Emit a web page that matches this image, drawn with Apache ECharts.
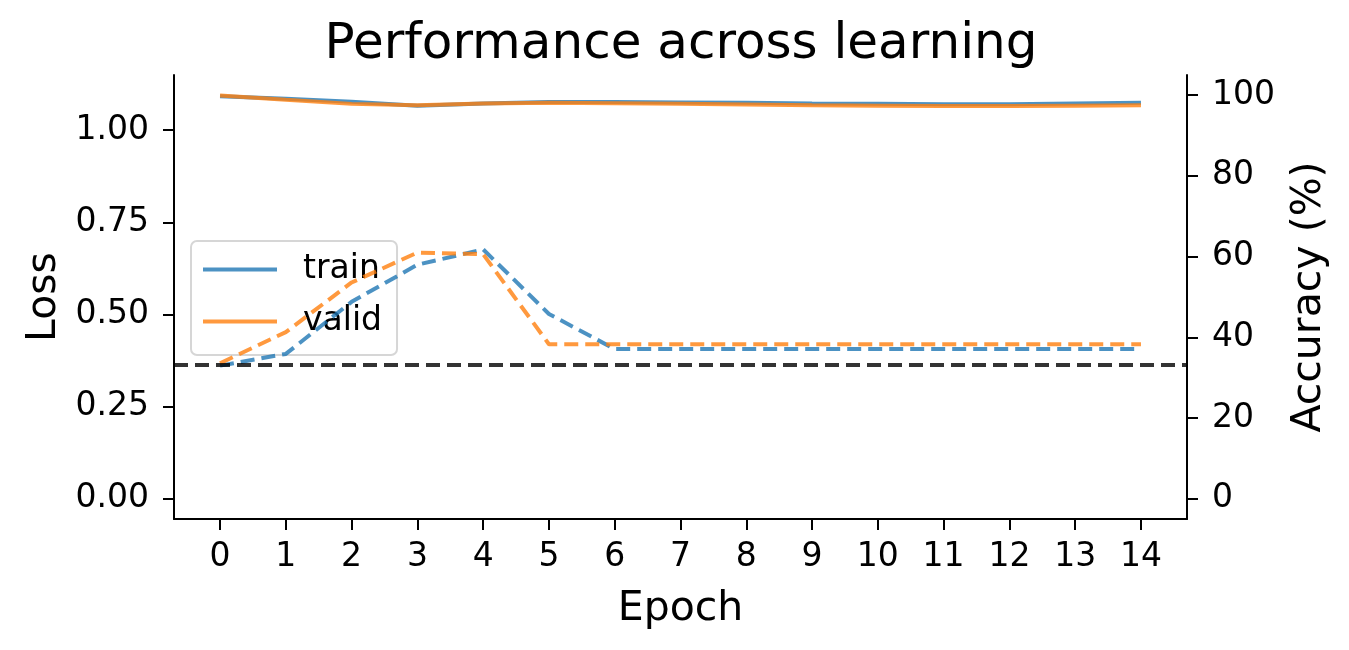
<!DOCTYPE html>
<html>
<head>
<meta charset="utf-8">
<script src="https://cdn.jsdelivr.net/npm/echarts@6/dist/echarts.min.js"></script>
<style>
html,body{margin:0;padding:0;background:#fff;}
#chart{width:1349px;height:650px;}
</style>
</head>
<body>
<div id="chart"></div>
<script>
const epochs = [0,1,2,3,4,5,6,7,8,9,10,11,12,13,14];
const trainLoss = [1.092,1.085,1.077,1.066,1.072,1.076,1.076,1.075,1.074,1.072,1.071,1.070,1.070,1.072,1.074];
const validLoss = [1.094,1.082,1.071,1.067,1.072,1.074,1.073,1.071,1.069,1.067,1.066,1.065,1.065,1.066,1.067];
const trainAcc = [33.0,35.9,48.8,58.0,61.8,45.8,37.1,37.1,37.1,37.1,37.1,37.1,37.1,37.1,37.1];
const validAcc = [33.6,41.3,53.6,61.0,60.6,38.3,38.3,38.3,38.3,38.3,38.3,38.3,38.3,38.3,38.3];
const chanceAcc = 33.333;
const lossTicks = [0,0.25,0.5,0.75,1.0];
const accTicks = [0,20,40,60,80,100];

const FONT = 'DejaVu Sans';
const BLUE = 'rgba(31,119,180,0.8)';
const ORANGE = 'rgba(255,127,14,0.8)';

const pair = (xs, ys) => xs.map((x, i) => [x, ys[i]]);

const chart = echarts.init(document.getElementById('chart'), null, {renderer: 'canvas'});
const axisCommon = {
  axisLine: {show: true, onZero: false, lineStyle: {color: '#000', width: 2}},
  splitLine: {show: false},
  nameTextStyle: {fontFamily: FONT, fontSize: 41, color: '#000'},
};
const tick = vals => ({show: true, length: 11, customValues: vals, lineStyle: {color: '#000', width: 2}});
chart.setOption({
  animation: false,
  backgroundColor: '#fff',
  title: {
    text: 'Performance across learning',
    left: 676, textAlign: 'center', top: 14,
    textStyle: {fontFamily: FONT, fontSize: 50, fontWeight: 'normal', color: '#000', lineHeight: 52}
  },
  grid: {left: 174, right: 162, top: 75, bottom: 131, containLabel: false},
  legend: {
    orient: 'vertical', left: 191, top: 241, z: 1,
    padding: [12, 15, 17, 12],
    itemWidth: 74, itemHeight: 4, itemGap: 19,
    backgroundColor: 'rgba(255,255,255,0.8)',
    borderColor: '#d6d6d6', borderWidth: 2, borderRadius: 6,
    textStyle: {fontFamily: FONT, fontSize: 33, color: '#000', lineHeight: 33, padding: [0, 0, 0, 21]},
    data: [{name: 'train', icon: 'rect'}, {name: 'valid', icon: 'rect'}]
  },
  xAxis: Object.assign({}, axisCommon, {
    type: 'value', min: -0.7, max: 14.7,
    name: 'Epoch', nameLocation: 'middle', nameGap: 70,
    axisTick: tick(epochs),
    axisLabel: {customValues: epochs, margin: 22, fontFamily: FONT, fontSize: 33, color: '#000'}
  }),
  yAxis: [
    Object.assign({}, axisCommon, {
      type: 'value', position: 'left', min: -0.0547, max: 1.1493,
      name: 'Loss', nameLocation: 'middle', nameGap: 108,
      axisTick: tick(lossTicks),
      axisLabel: {customValues: lossTicks, margin: 25, fontFamily: FONT, fontSize: 33, color: '#000',
        formatter: v => v.toFixed(2)}
    }),
    Object.assign({}, axisCommon, {
      type: 'value', position: 'right', min: -5, max: 105,
      name: 'Accuracy (%)', nameLocation: 'middle', nameGap: 102,
      axisTick: tick(accTicks),
      axisLabel: {customValues: accTicks, margin: 25, fontFamily: FONT, fontSize: 33, color: '#000'}
    })
  ],
  series: [
    {name: 'train', type: 'line', yAxisIndex: 0, data: pair(epochs, trainLoss), showSymbol: false, z: 2,
     color: BLUE, lineStyle: {color: BLUE, width: 4}},
    {name: 'valid', type: 'line', yAxisIndex: 0, data: pair(epochs, validLoss), showSymbol: false, z: 2,
     color: ORANGE, lineStyle: {color: ORANGE, width: 4}},
    {name: 'train acc', type: 'line', yAxisIndex: 1, data: pair(epochs, trainAcc), showSymbol: false, z: 3,
     color: BLUE, lineStyle: {color: BLUE, width: 4, type: [14, 7]}},
    {name: 'valid acc', type: 'line', yAxisIndex: 1, data: pair(epochs, validAcc), showSymbol: false, z: 3,
     color: ORANGE, lineStyle: {color: ORANGE, width: 4, type: [14, 7]},
     markLine: {silent: true, symbol: 'none', label: {show: false},
       lineStyle: {color: 'rgba(0,0,0,0.8)', width: 4, type: [14, 7]},
       data: [{yAxis: chanceAcc}]}}
  ]
});
</script>
</body>
</html>
